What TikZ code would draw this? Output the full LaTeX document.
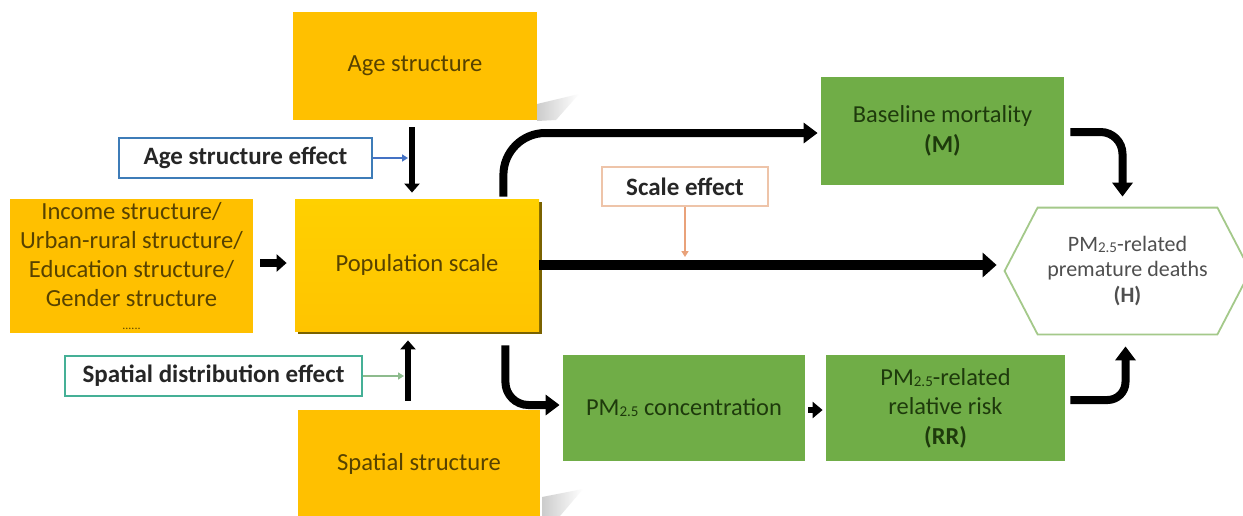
\documentclass[tikz,border=0pt]{standalone}
\usepackage{fontspec}
\setmainfont{Carlito}
\usetikzlibrary{arrows.meta,calc,shadows}
\definecolor{gold}{HTML}{FFC000}
\definecolor{goldtext}{HTML}{574200}
\definecolor{poptop}{HTML}{FFD000}
\definecolor{popbot}{HTML}{FFC400}
\definecolor{popshadow}{HTML}{7A6200}
\definecolor{grn}{HTML}{70AD47}
\definecolor{grntext}{HTML}{1E3A0C}
\definecolor{effblue}{HTML}{3E7CB8}
\definecolor{blueline}{HTML}{4472C4}
\definecolor{effteal}{HTML}{45B096}
\definecolor{tealline}{HTML}{8DBB8D}
\definecolor{effpeach}{HTML}{EEC4A9}
\definecolor{peachline}{HTML}{E9A27A}
\definecolor{hexline}{HTML}{A4C98A}
\definecolor{hextext}{HTML}{4F4F4F}
\newcommand{\PMtf}{PM\raisebox{-0.1ex}{\fontsize{7.5pt}{8pt}\selectfont 2.5}}
\begin{document}
\begin{tikzpicture}[x=0.5pt,y=-0.5pt,
  every node/.style={inner sep=0pt, align=center},
  goldbox/.style={fill=gold, text=goldtext, font=\fontsize{12.3pt}{14.4pt}\selectfont},
  popbox/.style={top color=poptop, bottom color=popbot, text=goldtext,
     font=\fontsize{12.3pt}{14.4pt}\selectfont,
     drop shadow={shadow xshift=1.6pt, shadow yshift=-1.6pt, fill=popshadow, opacity=1}},
  grnbox/.style={fill=grn, text=grntext, font=\fontsize{12.2pt}{14.8pt}\selectfont},
  effbox/.style={draw, line width=1.1pt, fill=white, text=black!85,
     font=\bfseries\fontsize{12.5pt}{15pt}\selectfont},
  hexbox/.style={text=hextext, font=\fontsize{11pt}{12.8pt}\selectfont},
  fatarrow/.style={line width=5pt, -{Triangle[length=7pt,width=12pt]}},
  curvearrow/.style={line width=4pt, -{Triangle[length=7pt,width=10pt]}},
  stemarrow/.style={line width=3.2pt, -{Triangle[length=4.5pt,width=7.5pt]}},
  thinarrow/.style={line width=1pt, -{Triangle[length=3pt,width=3.5pt]}}
]
\useasboundingbox (0,0) rectangle (1243,515);
\clip (0,0) rectangle (1243,515);
\fill[white] (0,0) rectangle (1243,515);

% perspective shadows
\shade[left color=black!20, right color=white] (537,104) -- (579,94) -- (556,120) -- (537,121) -- cycle;
\shade[left color=black!20, right color=white] (542,497) -- (583,489) -- (560,516) -- (542,516) -- cycle;

% boxes
\node[goldbox, minimum width=122pt, minimum height=54pt] (age) at (415,66) {Age structure};
\node[goldbox, minimum width=121.5pt, minimum height=67pt] (income) at (131.5,266)
  {Income structure/\\Urban-rural structure/\\Education structure/\\Gender structure\\[-3pt]{\fontsize{6pt}{7pt}\selectfont ......}};
\node[popbox, minimum width=122pt, minimum height=66pt] (pop) at (417,265) {Population scale};
\node[goldbox, minimum width=121pt, minimum height=54pt] (spatial) at (419,464) {Spatial structure};

\node[effbox, draw=effblue, minimum width=126.5pt, minimum height=20pt] (ageeff) at (245.5,158) {Age structure effect};
\node[effbox, draw=effteal, minimum width=148.5pt, minimum height=20pt] (spateff) at (213.5,376) {Spatial distribution effect};
\node[effbox, draw=effpeach, line width=0.8pt, minimum width=83pt, minimum height=19.5pt] (scaleeff) at (685,186.5) {Scale effect};

\node[grnbox, minimum width=121.5pt, minimum height=54pt] (baseline) at (942.5,131) {Baseline mortality\\\textbf{(M)}};
\node[grnbox, minimum width=121pt, minimum height=53pt] (conc) at (684,408) {\PMtf{} concentration};
\node[grnbox, minimum width=119.5pt, minimum height=53pt] (RR) at (945.5,408) {\PMtf-related\\relative risk\\\textbf{(RR)}};

\node[hexbox, minimum width=122.5pt, minimum height=63pt] (hex) at (1127.5,271) {\PMtf-related\\premature deaths\\\textbf{(H)}};
\draw[hexline, line width=0.9pt] (hex.west) -- ($(hex.north west)+(33,0)$) -- ($(hex.north east)+(-33,0)$)
  -- (hex.east) -- ($(hex.south east)+(-33,0)$) -- ($(hex.south west)+(33,0)$) -- cycle;

% main connectors
\draw[stemarrow] ($(age.south)+(-3,7)$) -- ($(pop.north)+(-5,-6)$);
\draw[stemarrow] ($(spatial.north)+(-11,-9)$) -- ($(pop.south)+(-9,9)$);
\draw[line width=4pt, -{Triangle[length=5pt,width=8.5pt]}] ($(income.east)+(7,-3)$) -- ($(pop.west)+(-8,-2)$);
\draw[fatarrow] (pop.east) -- ($(pop.east -| hex.west)+(-8,0)$);
\draw[curvearrow, rounded corners=21pt] ($(pop.north east)+(-36,-2)$) |- ($(baseline.west)+(-3,2)$);
\draw[curvearrow, rounded corners=11.5pt] ($(pop.south east)+(-34,14)$) |- ($(conc.west)+(-3,-3)$);
\draw[curvearrow, rounded corners=11pt] ($(baseline.east)+(6,1)$) -| ($(hex.north)+(-5,-11)$);
\draw[curvearrow, rounded corners=9pt] ($(RR.east)+(5,-8)$) -| ($(hex.south)+(-2,12)$);
\draw[line width=3pt, -{Triangle[length=5pt,width=8pt]}] ($(conc.east)+(3,2)$) -- ($(RR.west)+(-3,2)$);

% effect connectors
\coordinate (agejoin) at (408,158);
\coordinate (spatjoin) at (404,376);
\coordinate (scalejoin) at (685,257);
\draw[thinarrow, blueline] (ageeff.east) -- (agejoin);
\draw[thinarrow, tealline] (spateff.east) -- (spatjoin);
\draw[thinarrow, peachline, line width=0.8pt] (scaleeff.south) -- (scalejoin);
\end{tikzpicture}
\end{document}
